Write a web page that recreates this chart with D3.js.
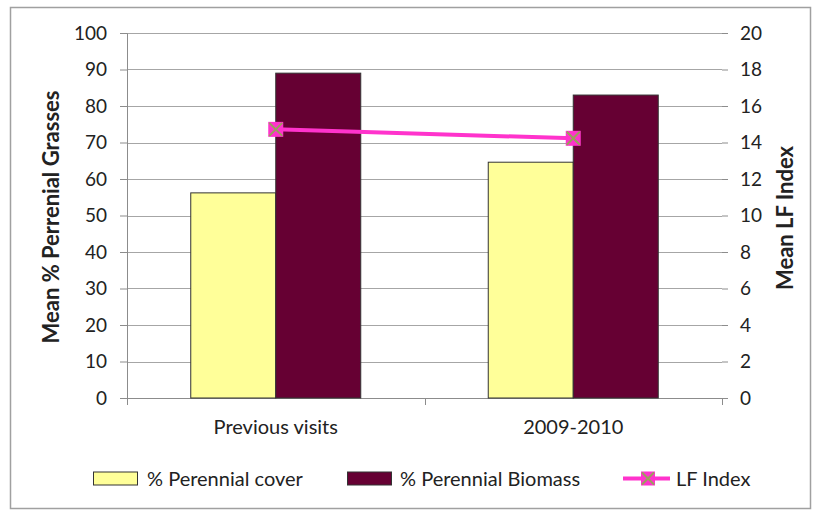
<!DOCTYPE html>
<html lang="en">
<head>
<meta charset="UTF-8">
<title>perennial grasses</title>
<style>
  body { margin: 0; background: #fff; }
  svg text { font-family: Lato, "Open Sans", sans-serif; fill: #222; }
</style>
</head>
<body>
<script src="https://cdn.jsdelivr.net/npm/d3@7"></script>
<script>
var categories = ["Previous visits", "2009-2010"];
var perennialCover = [56.2, 64.6];
var perennialBiomass = [89, 83];
var lfIndex = [14.72, 14.23];
var leftTicks = [0, 10, 20, 30, 40, 50, 60, 70, 80, 90, 100];
var rightTicks = [0, 2, 4, 6, 8, 10, 12, 14, 16, 18, 20];

var W = 816, H = 512;
var plot = {left: 127, right: 722, top: 33, bottom: 398};

var svg = d3.select("body").append("svg")
  .attr("width", W).attr("height", H);

// outer frame
svg.append("rect")
  .attr("x", 10.5).attr("y", 7.5)
  .attr("width", 800).attr("height", 501)
  .attr("fill", "none").attr("stroke", "#a0a0a0").attr("stroke-width", 1.5);

var x = d3.scaleBand().domain(categories).range([plot.left, plot.right]);
var xs = d3.scaleBand().domain(["cover", "bio"]).range([0, x.bandwidth()]).paddingOuter(0.75).paddingInner(0);
var yL = d3.scaleLinear().domain([0, 100]).range([plot.bottom, plot.top]);
var yR = d3.scaleLinear().domain([0, 20]).range([plot.bottom, plot.top]);

// gridlines
svg.append("g").selectAll("line").data(leftTicks.slice(1)).enter().append("line")
  .attr("x1", plot.left).attr("x2", plot.right)
  .attr("y1", function(d){ return Math.round(yL(d)) + 0.5; })
  .attr("y2", function(d){ return Math.round(yL(d)) + 0.5; })
  .attr("stroke", "#a6a6a6").attr("stroke-width", 1);

// left axis
var leftAxis = svg.append("g")
  .attr("transform", "translate(" + plot.left + ",0)")
  .call(d3.axisLeft(yL).tickValues(leftTicks).tickSize(7).tickPadding(13));
// right axis
var rightAxis = svg.append("g")
  .attr("transform", "translate(" + plot.right + ",0)")
  .call(d3.axisRight(yR).tickValues(rightTicks).tickSize(6).tickPadding(12));
[leftAxis, rightAxis].forEach(function(a){
  a.select(".domain").attr("stroke", "#8c8c8c");
  a.selectAll(".tick line").attr("stroke", "#8c8c8c");
  a.selectAll(".tick text").style("font-size", "19px").attr("fill", "#222");
});
rightAxis.select(".domain").remove();
rightAxis.selectAll(".tick text").attr("text-anchor", "start");

// x axis
var xAxis = svg.append("g")
  .attr("transform", "translate(0," + plot.bottom + ")")
  .call(d3.axisBottom(x).tickSize(0).tickPadding(22));
xAxis.select(".domain").attr("stroke", "#8c8c8c");
xAxis.selectAll(".tick text").style("font-size", "20px").attr("fill", "#222");
// category separators
svg.append("g").selectAll("line")
  .data([plot.left, plot.left + x.step(), plot.right]).enter().append("line")
  .attr("x1", function(d){ return Math.round(d) + 0.5; }).attr("x2", function(d){ return Math.round(d) + 0.5; })
  .attr("y1", plot.bottom).attr("y2", plot.bottom + 7)
  .attr("stroke", "#8c8c8c");

// bars
var g = svg.append("g");
categories.forEach(function(c, i){
  g.append("rect")
    .attr("x", x(c) + xs("cover")).attr("y", yL(perennialCover[i]))
    .attr("width", xs.bandwidth()).attr("height", plot.bottom - yL(perennialCover[i]))
    .attr("fill", "#FFFF99").attr("stroke", "#333").attr("stroke-width", 1);
  g.append("rect")
    .attr("x", x(c) + xs("bio")).attr("y", yL(perennialBiomass[i]))
    .attr("width", xs.bandwidth()).attr("height", plot.bottom - yL(perennialBiomass[i]))
    .attr("fill", "#660033").attr("stroke", "#333").attr("stroke-width", 1);
});

// LF index line
var line = d3.line()
  .x(function(d, i){ return x(categories[i]) + x.bandwidth() / 2; })
  .y(function(d){ return yR(d); });
svg.append("path").datum(lfIndex)
  .attr("d", line).attr("fill", "none")
  .attr("stroke", "#FF33CC").attr("stroke-width", 4);

function marker(sel, cx, cy, s) {
  sel.append("rect").attr("x", cx - s/2).attr("y", cy - s/2)
    .attr("width", s).attr("height", s).attr("fill", "#FF33CC");
  sel.append("path")
    .attr("d", "M" + (cx - s/2 + 1) + "," + (cy - s/2 + 1) + "L" + (cx + s/2 - 1) + "," + (cy + s/2 - 1) +
               "M" + (cx + s/2 - 1) + "," + (cy - s/2 + 1) + "L" + (cx - s/2 + 1) + "," + (cy + s/2 - 1))
    .attr("stroke", "#99A05A").attr("stroke-width", 2);
}
lfIndex.forEach(function(d, i){
  marker(svg, x(categories[i]) + x.bandwidth() / 2, yR(d), 15);
});

// axis titles
svg.append("text")
  .attr("transform", "translate(59,217) rotate(-90)")
  .attr("text-anchor", "middle")
  .style("font-size", "22px").style("font-weight", "bold")
  .text("Mean % Perrenial Grasses");
svg.append("text")
  .attr("transform", "translate(793,218) rotate(-90)")
  .attr("text-anchor", "middle")
  .style("font-size", "22px").style("font-weight", "bold")
  .text("Mean LF Index");

// legend
var ly = 478.5;
var leg = svg.append("g");
leg.append("rect").attr("x", 93.5).attr("y", ly - 6.5).attr("width", 44).attr("height", 13)
  .attr("fill", "#FFFF99").attr("stroke", "#333");
leg.append("text").attr("x", 147).attr("y", ly).attr("dy", "0.35em")
  .style("font-size", "20px").text("% Perennial cover");
leg.append("rect").attr("x", 347.5).attr("y", ly - 6.5).attr("width", 44).attr("height", 13)
  .attr("fill", "#660033").attr("stroke", "#333");
leg.append("text").attr("x", 400).attr("y", ly).attr("dy", "0.35em")
  .style("font-size", "20px").text("% Perennial Biomass");
leg.append("line").attr("x1", 623).attr("x2", 670).attr("y1", ly).attr("y2", ly)
  .attr("stroke", "#FF33CC").attr("stroke-width", 4);
marker(leg, 648, ly, 14);
leg.append("text").attr("x", 676).attr("y", ly).attr("dy", "0.35em")
  .style("font-size", "20px").text("LF Index");
</script>
</body>
</html>
